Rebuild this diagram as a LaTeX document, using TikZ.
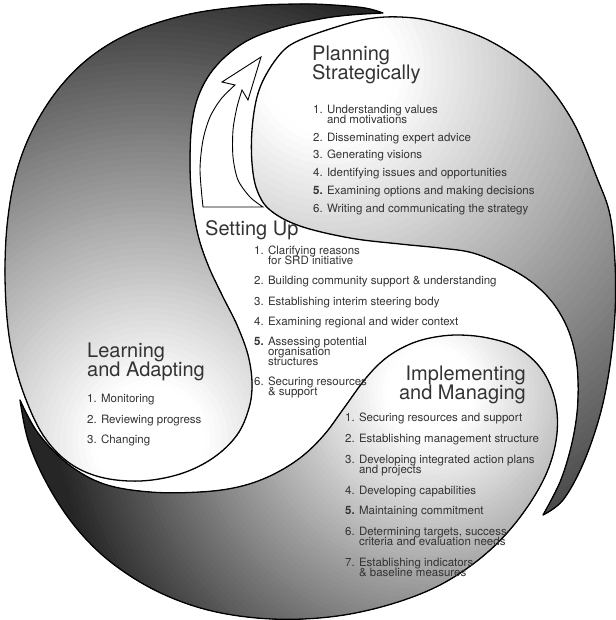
\documentclass[tikz,border=0pt]{standalone}
\usepackage{fontspec}
\setmainfont{TeX Gyre Heros}
\usetikzlibrary{positioning}

% outlines of the three swirls
\newcommand\learnshape{plot[smooth, tension=0.6] coordinates {(383,13) (365,8) (333,5) (300,4) (250,6)
  (190,14) (135,31) (93,55) (60,87) (34,127) (17,170) (8,217) (5,267) (7,318) (13,357) (25,397)
  (43,435) (68,462) (100,477) (140,481) (180,474) (213,458) (237,435) (249,408) (252,383) (248,355)
  (237,325) (222,295) (208,265) (198,235) (192,200) (190,163) (192,123) (200,92) (217,65) (245,42)
  (280,28) (320,19) (350,15) (383,13)} -- cycle}
\newcommand\planshape{plot[smooth, tension=0.6] coordinates {(543,515) (563,500) (583,464) (600,415)
  (610,365) (615,313) (615,263) (610,215) (597,178) (572,120) (537,74) (488,40) (435,22) (400,17)
  (367,19) (333,28) (300,40) (283,51) (267,73) (257,97) (252,130) (252,163) (257,190) (270,210)
  (300,226) (350,238) (400,244) (440,248) (473,253) (507,267) (533,283) (553,303) (567,327)
  (575,353) (578,380) (577,413) (571,447) (560,482) (543,515)} -- cycle}
\newcommand\implshape{plot[smooth, tension=0.6] coordinates {(20,400) (28,440) (45,480) (70,520)
  (100,553) (135,579) (172,598) (212,611) (257,618) (303,619) (350,614) (398,602) (440,585)
  (477,561) (507,533) (532,500) (549,467) (557,433) (555,400) (542,370) (518,348) (488,338)
  (457,335) (430,338) (408,345) (386,358) (366,378) (344,408) (324,435) (300,458) (270,476)
  (238,487) (200,492) (150,492) (104,484) (68,464) (38,433) (20,400)} -- cycle}
% white centre fading to dark grey: #1 centre, #2 radius
\newcommand\swirlshade[2]{%
  \fill[black!85] (0,0) rectangle (615,620);
  \foreach \k [evaluate=\k as \d using {max(0,(\k/80-0.12)/0.88*85)}] in {80,79,...,1}
    \fill[black!\d] #1 circle ({\k/80*#2*1pt});}

\begin{document}
\begin{tikzpicture}[x=1pt, y=-1pt,
    outline/.style={draw=black, line width=1.3pt, line join=round},
    arrowline/.style={draw=black, fill=white, line width=0.9pt, line join=miter},
    title/.style={align=left, inner sep=0pt, font={\fontsize{20}{18.5}\selectfont\lineskiplimit=-20pt}, text=black!80},
    steps/.style={align=left, inner sep=0pt, font={\fontsize{11.5}{10}\selectfont\lineskiplimit=-20pt}, text=black!80, anchor=north west}
  ]
  \useasboundingbox (0,0) rectangle (615,620);

  % Learning and Adapting, tail along the top
  \begin{scope}
    \clip \learnshape;
    \swirlshade{(150,440)}{480}
  \end{scope}
  \draw[outline] \learnshape;

  % Planning Strategically, tail down the right
  \begin{scope}
    \clip \planshape;
    \swirlshade{(330,70)}{580}
  \end{scope}
  \draw[outline] \planshape;

  % Implementing and Managing, tail round the bottom
  \begin{scope}
    \clip \implshape;
    \swirlshade{(430,390)}{380}
  \end{scope}
  \draw[outline] \implshape;

  % arrow
  \draw[arrowline]
    plot[smooth] coordinates {(203,207) (200,170) (203,140) (210,117) (221,99) (235,85)}
    -- (222,82) -- (261,57) -- (248,100) -- (242,90)
    -- plot[smooth] coordinates {(242,90) (237,107) (233,130) (233,157) (238,180) (250,197) (263,207)} -- cycle;

  % texts
  \node[title, anchor=north west] (planTitle) at (312,46) {Planning\\Strategically};
  \node[steps] (planList) at (313,105) {1. Understanding values\\ \phantom{1. }and motivations\\[7.7pt]
    2. Disseminating expert advice\\[7.7pt]
    3. Generating visions\\[7.7pt]
    4. Identifying issues and opportunities\\[7.7pt]
    \textbf{5.} Examining options and making decisions\\[7.7pt]
    6. Writing and communicating the strategy};

  \node[title, anchor=north west] (setupTitle) at (205,220) {Setting Up};
  \node[steps] (setupList) at (254,246) {1. Clarifying reasons\\ \phantom{1. }for SRD initiative\\[10.2pt]
    2. Building community support \& understanding\\[10.2pt]
    3. Establishing interim steering body\\[10.2pt]
    4. Examining regional and wider context\\[10.2pt]
    \textbf{5.} Assessing potential\\ \phantom{5. }organisation\\ \phantom{5. }structures\\[10.2pt]
    6. Securing resources\\ \phantom{6. }\& support};

  \node[title, anchor=north west] (learnTitle) at (87,343) {Learning\\and Adapting};
  \node[steps] (learnList) at (87,394) {1. Monitoring\\[10.5pt]
    2. Reviewing progress\\[10.5pt]
    3. Changing};

  \node[title, align=right, anchor=north east] (implTitle) at (526,366) {Implementing\\and Managing};
  \node[steps] (implList) at (345,413) {1. Securing resources and support\\[10.8pt]
    2. Establishing management structure\\[10.8pt]
    3. Developing integrated action plans\\ \phantom{3. }and projects\\[10.8pt]
    4. Developing capabilities\\[10.8pt]
    \textbf{5.} Maintaining commitment\\[10.8pt]
    6. Determining targets, success\\ \phantom{6. }criteria and evaluation needs\\[10.8pt]
    7. Establishing indicators\\ \phantom{7. }\& baseline measures};
\end{tikzpicture}
\end{document}
